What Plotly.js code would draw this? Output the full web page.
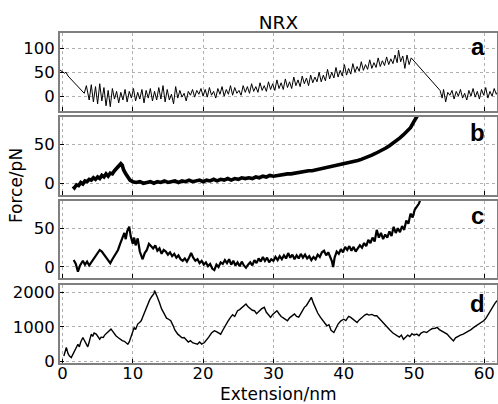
<!DOCTYPE html>
<html><head><meta charset="utf-8">
<script src="https://cdn.plot.ly/plotly-3.0.1.min.js"></script>
<style>html,body{margin:0;padding:0;background:#fff}#chart{width:498px;height:404px}</style>
</head><body><div id="chart"></div>
<script>
// Panel a
const aX = [-0.4,0.3,0.5,0.8,3.1,3.4,3.8,4.1,4.4,4.7,5.0,5.3,5.6,5.9,6.2,6.5,6.8,7.1,7.4,7.7,8.0,8.3,8.6,8.9,9.2,9.5,9.8,10.1,10.4,10.7,11.0,11.3,11.6,11.9,12.2,12.5,12.8,13.1,13.4,13.7,14.0,14.3,14.6,14.9,15.2,15.5,15.8,16.1,16.4,16.7,17.0,17.3,17.6,17.9,18.2,18.5,18.8,19.1,19.4,19.7,20.0,20.3,20.6,20.9,21.2,21.5,21.8,22.1,22.4,22.7,23.0,23.3,23.6,23.9,24.2,24.5,24.8,25.1,25.4,25.7,26.0,26.3,26.6,26.9,27.2,27.5,27.8,28.1,28.4,28.7,29.0,29.3,29.6,29.9,30.2,30.5,30.8,31.1,31.4,31.7,32.0,32.3,32.6,32.9,33.2,33.5,33.8,34.1,34.4,34.7,35.0,35.3,35.6,35.9,36.2,36.5,36.8,37.1,37.4,37.7,38.0,38.3,38.6,38.9,39.2,39.5,39.8,40.1,40.4,40.7,41.0,41.3,41.6,41.9,42.2,42.5,42.8,43.1,43.4,43.7,44.0,44.3,44.6,44.9,45.2,45.5,45.8,46.1,46.4,46.7,47.0,47.3,47.6,47.8,48.1,48.4,48.7,49.0,49.3,49.6,53.7,54.0,54.2,54.5,54.8,55.1,55.4,55.7,56.0,56.3,56.6,56.9,57.2,57.5,57.8,58.1,58.4,58.7,59.0,59.3,59.6,59.9,60.2,60.5,60.8,61.1,61.4,61.7,62.0];
const aY = [55,48,50,42,6,22,-8,24,-12,20,-16,26,-10,18,-20,12,-22,16,-6,10,-14,8,-8,14,-12,10,-4,16,-10,8,-6,14,-14,12,-4,16,-10,10,-8,18,-6,22,-12,14,-8,4,-16,20,-4,12,-2,6,-10,10,2,14,-2,12,4,16,0,14,-2,18,2,10,-4,16,4,20,0,14,4,22,2,18,6,12,2,22,8,20,6,26,10,20,8,28,12,22,10,30,14,26,12,34,16,28,14,36,18,30,16,40,22,34,20,42,26,38,22,44,28,40,30,50,30,44,32,56,36,50,38,60,40,54,42,66,44,58,46,68,50,62,52,72,54,66,56,76,58,70,60,80,62,74,64,82,66,78,68,86,70,96,72,84,58,86,66,80,12,-4,14,-12,8,2,12,-6,10,0,14,-4,6,-8,12,0,16,-2,10,-6,14,2,18,-4,10,0,16,4,12];

// Panel b
const bX = [1.5,1.7,2.0,2.3,2.6,2.9,3.2,3.5,3.8,4.1,4.4,4.7,5.0,5.3,5.6,5.9,6.2,6.5,6.8,7.1,7.4,7.7,8.0,8.3,8.5,8.7,9.0,9.3,9.6,10.0,10.5,11.0,11.5,12.0,12.5,13.0,13.5,14.0,14.5,15.0,15.5,16.0,16.5,17.0,17.5,18.0,18.5,19.0,19.5,20.0,20.5,21.0,21.5,22.0,22.5,23.0,23.5,24.0,24.5,25.0,25.5,26.0,26.5,27.0,27.5,28.0,28.5,29.0,29.5,30.0,30.5,31.0,31.5,32.0,32.5,33.0,33.5,34.0,34.5,35.0,35.5,36.0,36.5,37.0,37.5,38.0,38.5,39.0,39.5,40.0,40.5,41.0,41.5,42.0,42.5,43.0,43.5,44.0,44.5,45.0,45.5,46.0,46.5,47.0,47.5,48.0,48.5,49.0,49.5,50.0,50.3,50.6];
const bY = [-4,-6,-2,-3,1,-1,3,2,5,4,7,5,8,6,10,8,12,9,13,12,16,19,22,25,23,17,12,7,4,2,1,2,0,1,2,0,2,1,3,1,2,3,1,3,2,4,2,3,4,2,4,3,5,3,5,4,6,4,6,5,7,6,7,6,8,7,9,8,10,9,10,10,11,12,12,13,14,14,15,16,16,17,18,19,19,21,21,22,23,24,25,26.5,27.5,29,30.5,32,34,36,38,40,42.5,45,48,51,54.5,58,62,66,71,79,83,88];

// Panel c
const cX = [1.6,1.9,2.2,2.5,2.9,3.2,3.5,3.8,4.1,4.4,4.7,5.0,5.3,5.6,5.9,6.2,6.5,6.8,7.1,7.4,7.7,7.9,8.2,8.5,8.8,9.0,9.2,9.5,9.7,10.0,10.2,10.4,10.7,11.0,11.2,11.4,11.7,12.0,12.3,12.6,12.9,13.2,13.5,13.8,14.1,14.4,14.7,15.0,15.3,15.6,15.9,16.2,16.5,16.8,17.1,17.4,17.7,18.0,18.3,18.6,18.9,19.2,19.5,19.8,20.1,20.4,20.7,21.0,21.3,21.6,21.9,22.2,22.5,22.8,23.1,23.4,23.7,24.0,24.3,24.6,24.9,25.2,25.5,25.8,26.1,26.4,26.7,27.0,27.3,27.6,27.9,28.2,28.5,28.8,29.1,29.4,29.7,30.0,30.3,30.6,30.9,31.2,31.5,31.8,32.1,32.4,32.7,33.0,33.3,33.6,33.9,34.2,34.5,34.8,35.1,35.4,35.7,36.0,36.3,36.6,36.9,37.2,37.5,37.8,38.1,38.3,38.5,38.7,39.0,39.3,39.6,39.9,40.2,40.5,40.8,41.1,41.4,41.7,42.0,42.3,42.6,42.9,43.2,43.5,43.8,44.1,44.4,44.7,45.0,45.3,45.6,45.9,46.2,46.5,46.8,47.1,47.4,47.7,48.0,48.3,48.6,48.9,49.2,49.5,49.8,50.1,50.4,50.7,50.9];
const cY = [9,4,-6,2,8,3,7,2,6,10,14,18,22,20,16,12,8,5,10,14,18,22,30,38,44,36,46,52,40,30,38,28,37,20,14,10,18,22,30,27,24,28,21,24,17,22,20,16,19,14,17,12,15,10,8,11,7,12,18,12,8,10,5,8,3,6,1,4,-2,-4,3,0,6,4,9,5,10,3,8,2,6,1,7,2,-1,3,6,2,9,5,11,7,13,8,12,6,10,8,13,9,14,10,15,11,18,12,16,10,15,11,17,12,16,11,14,9,13,10,16,13,19,21,15,19,13,8,0,12,20,17,23,19,26,22,27,21,26,20,24,28,25,31,27,35,31,38,33,48,38,44,36,42,38,46,40,52,44,50,45,53,48,60,56,69,64,74,78,82,87];

// Panel d
const dX = [0.2,0.4,0.55,0.8,1.0,1.25,1.5,1.8,2.0,2.2,2.4,2.6,2.9,3.1,3.3,3.6,3.8,4.1,4.3,4.5,4.8,5.0,5.3,5.5,5.8,6.0,6.3,6.6,6.9,7.1,7.3,7.6,7.9,8.2,8.5,8.8,9.1,9.3,9.5,9.7,10.0,10.2,10.4,10.7,11.0,11.2,11.4,11.7,12.1,12.4,12.7,13.0,13.1,13.3,13.5,13.8,14.1,14.5,14.8,15.1,15.4,15.7,16.0,16.4,16.7,17.0,17.3,17.6,17.9,18.2,18.5,18.8,19.2,19.5,19.8,20.2,20.5,20.8,21.2,21.6,21.9,22.2,22.5,22.8,23.1,23.5,23.9,24.2,24.5,24.9,25.2,25.5,25.8,26.1,26.4,26.7,27.0,27.3,27.6,28.0,28.3,28.7,29.0,29.3,29.6,29.9,30.2,30.5,30.8,31.1,31.4,31.7,32.0,32.3,32.6,33.0,33.3,33.6,34.0,34.4,34.7,35.0,35.2,35.4,35.7,36.0,36.3,36.7,37.0,37.3,37.6,37.9,38.2,38.6,38.9,39.2,39.6,40.0,40.3,40.7,41.0,41.3,41.6,41.9,42.2,42.6,43.0,43.3,43.6,44.0,44.4,44.7,45.0,45.4,45.8,46.2,46.6,47.0,47.3,47.6,47.9,48.2,48.5,48.8,49.1,49.4,49.7,50.0,50.4,50.7,51.0,51.4,51.8,52.2,52.6,53.0,53.3,53.6,53.9,54.3,54.7,55.0,55.3,55.6,55.9,56.2,56.6,57.0,57.4,57.8,58.1,58.5,58.8,59.2,59.5,59.9,60.2,60.5,60.8,61.1,61.5,61.8];
const dY = [155,300,400,220,150,108,200,320,380,495,420,560,690,600,520,420,560,787,720,820,787,740,640,700,690,760,820,880,933,880,820,740,690,640,600,580,540,495,560,700,860,982,920,1080,1130,1175,1280,1420,1660,1780,1880,1960,2050,1920,1857,1700,1520,1370,1250,1220,1175,1050,900,787,720,680,690,620,560,600,540,520,495,560,500,545,640,700,820,885,860,820,787,900,1020,1150,1273,1350,1300,1467,1500,1560,1620,1660,1580,1540,1480,1467,1380,1460,1520,1565,1420,1350,1273,1360,1420,1467,1380,1300,1260,1220,1175,1260,1320,1370,1300,1280,1420,1565,1620,1740,1800,1857,1680,1520,1400,1273,1180,1100,1030,1060,900,835,940,1080,1175,1220,1180,1300,1273,1220,1180,1127,1200,1280,1340,1370,1340,1360,1320,1322,1250,1160,1080,982,900,820,780,738,700,760,640,700,760,720,800,760,787,740,820,860,835,900,950,960,982,920,880,840,787,720,660,592,680,720,760,787,830,880,920,982,1020,1080,1120,1175,1240,1350,1467,1560,1680,1760];

const xTicks = [0,10,20,30,40,50,60];
const panelLetters = ['a','b','c','d'];

const FONT = 'DejaVu Sans, sans-serif';
const frame = {showline:true, mirror:true, linecolor:'#7f7f7f', linewidth:2,
  showgrid:true, gridcolor:'#b0b0b0', griddash:'dot', gridwidth:1,
  ticks:'inside', ticklen:4, tickcolor:'#000', zeroline:false,
  tickfont:{family:FONT, size:16.5, color:'#000'}};
const xr = [-0.35, 61.8];
function xa(anchor, show){ return Object.assign({}, frame, {range:xr, tickvals:xTicks, showticklabels:show, anchor:anchor, matches: anchor==='y4'?undefined:'x4'}); }

const traces = [
  {x:aX, y:aY, xaxis:'x', yaxis:'y', mode:'lines', line:{color:'#000', width:1}},
  {x:bX, y:bY, xaxis:'x2', yaxis:'y2', mode:'lines', line:{color:'#000', width:3.6}},
  {x:cX, y:cY, xaxis:'x3', yaxis:'y3', mode:'lines', line:{color:'#000', width:2.2}},
  {x:dX, y:dY, xaxis:'x4', yaxis:'y4', mode:'lines', line:{color:'#000', width:1.4}}
];

const letterY = [0.958, 0.697, 0.4455, 0.1818];
const annotations = panelLetters.map((t,i)=>({text:'<b>'+t+'</b>', xref:'paper', yref:'paper', x:0.956, y:letterY[i], xanchor:'center', yanchor:'middle', showarrow:false, font:{family:'Liberation Sans, Arial, sans-serif', size:24, color:'#000'}}));
annotations.push({text:'Force/pN', textangle:-90, xref:'paper', yref:'paper', x:-0.1007, y:0.539, xanchor:'center', yanchor:'middle', showarrow:false, font:{family:FONT, size:17, color:'#000'}});
annotations.push({text:'Extension/nm', xref:'paper', yref:'paper', x:0.5, y:-0.094, xanchor:'center', yanchor:'middle', showarrow:false, font:{family:FONT, size:17, color:'#000'}});

const layout = {
  width:498, height:404, showlegend:false,
  paper_bgcolor:'#fff', plot_bgcolor:'#fff',
  margin:{l:60, r:1, t:33, b:41},
  title:{text:'NRX', x:0.559, xanchor:'center', y:0.944, yanchor:'middle', font:{family:FONT, size:18.5, color:'#000'}},
  xaxis: Object.assign(xa('y', false), {domain:[0,1]}),
  xaxis2: Object.assign(xa('y2', false), {domain:[0,1]}),
  xaxis3: Object.assign(xa('y3', false), {domain:[0,1]}),
  xaxis4: Object.assign(xa('y4', true), {domain:[0,1], ticklabelstandoff:-6}),
  yaxis: Object.assign({}, frame, {domain:[0.7636,1], range:[-31,132], tickvals:[0,50,100], anchor:'x'}),
  yaxis2: Object.assign({}, frame, {domain:[0.5091,0.7464], range:[-15,85], tickvals:[0,50], anchor:'x2'}),
  yaxis3: Object.assign({}, frame, {domain:[0.2567,0.4909], range:[-14.6,85.3], tickvals:[0,50], anchor:'x3'}),
  yaxis4: Object.assign({}, frame, {domain:[0,0.2373], range:[-50,2222], tickvals:[0,1000,2000], anchor:'x4'}),
  annotations: annotations
};
Plotly.newPlot('chart', traces, layout, {displayModeBar:false, staticPlot:true});
</script></body></html>
